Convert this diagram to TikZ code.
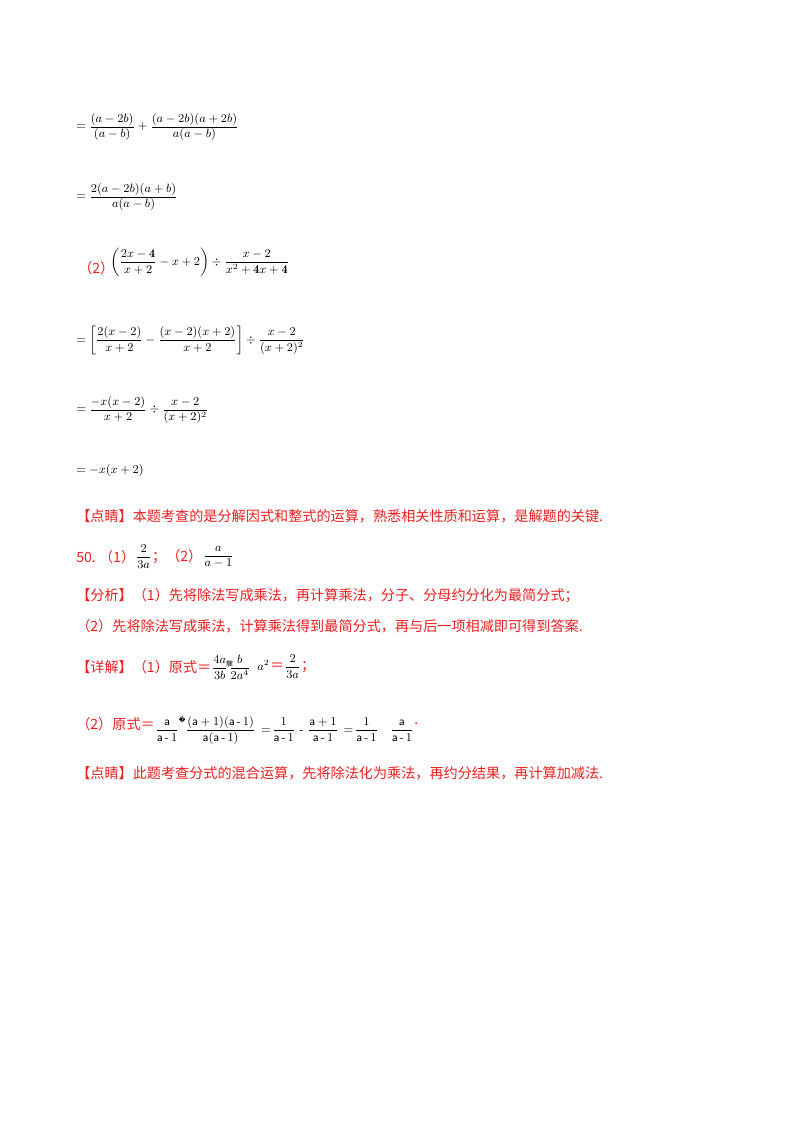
\documentclass[tikz,border=0pt]{standalone}
\usepackage{fontspec}
\usepackage{amsmath}
\newfontfamily\cjk{Noto Sans CJK SC}
\newfontfamily\dvs{DejaVu Sans}
\definecolor{rd}{HTML}{F02020}
\begin{document}
\begin{tikzpicture}[x=0.75pt,y=-0.75pt,
 m/.style={anchor=west,inner sep=0pt,font=\small},
 t/.style={anchor=west,inner sep=0pt,text=rd,font=\cjk\fontsize{10.6}{12}\selectfont}]
\useasboundingbox[fill=white] (0,0) rectangle (800,1132);
\node[m] (l1) at (76,127) {$\displaystyle=\frac{(a-2b)}{(a-b)}+\frac{(a-2b)(a+2b)}{a(a-b)}$};
\node[m] (l2) at (76,197) {$\displaystyle=\frac{2(a-2b)(a+b)}{a(a-b)}$};
\node[t] (p2) at (78,268) {（2）};
\node[m] (l3) at (110,262) {$\displaystyle\left(\frac{2x-\mathbf{4}}{x+2}-x+2\right)\div\frac{x-2}{x^2+\mathbf{4}x+\mathbf{4}}$};
\node[m] (l4) at (76,340) {$\displaystyle=\left[\frac{2(x-2)}{x+2}-\frac{(x-2)(x+2)}{x+2}\right]\div\frac{x-2}{(x+2)^2}$};
\node[m] (l5) at (76,410) {$\displaystyle=\frac{-x(x-2)}{x+2}\div\frac{x-2}{(x+2)^2}$};
\node[m] (l6) at (76,470) {$=-x(x+2)$};
\node[t] (d1) at (76,516) {【点睛】本题考查的是分解因式和整式的运算，熟悉相关性质和运算，是解题的关键.};
\node[t] (n50) at (76,557) {50.\ （1）};
\node[m] (n50a) at (n50.east) {$\displaystyle\frac{2}{3a}$};
\node[t] (n50b) at (n50a.east) {；（2）};
\node[m] (n50c) at (n50b.east) {$\displaystyle\frac{a}{a-1}$};
\node[t] (f1) at (76,596) {【分析】（1）先将除法写成乘法，再计算乘法，分子、分母约分化为最简分式；};
\node[t] (f2) at (76,626) {（2）先将除法写成乘法，计算乘法得到最简分式，再与后一项相减即可得到答案.};
\node[t] (x1) at (76,667) {【详解】（1）原式＝};
\node[m] (x1m) at (x1.east) {$\displaystyle\frac{4a}{3b}$\hspace{-1pt}\raisebox{3pt}{\cjk\tiny 驟}\hspace{-3pt}$\displaystyle\frac{b}{2a^4}\;\; a^2$};
\node[t] (x1e) at (x1m.east) {＝};
\node[m] (x1f) at (x1e.east) {$\displaystyle\frac{2}{3a}$};
\node[t] (x1g) at (x1f.east) {；};
\node[t] (x2) at (76,724) {（2）原式＝};
\node[m,font=\sffamily\small] (x2m) at ([yshift=-5pt]x2.east) {$\displaystyle\frac{\mathsf{a}}{\mathsf{a}\,\text{-}\,1}$\raisebox{8pt}{\dvs\tiny �}$\displaystyle\frac{(\mathsf{a}+1)(\mathsf{a}\,\text{-}\,1)}{\mathsf{a}(\mathsf{a}\,\text{-}\,1)}\,=\!\frac{1}{\mathsf{a}\,\text{-}\,1}\ \text{-}\ \frac{\mathsf{a}+1}{\mathsf{a}\,\text{-}\,1}\,=\!\frac{1}{\mathsf{a}\,\text{-}\,1}\quad\frac{\mathsf{a}}{\mathsf{a}\,\text{-}\,1}$};
\node[t] (x2e) at ([yshift=5pt]x2m.east) {.};
\node[t] (d2) at (76,773) {【点睛】此题考查分式的混合运算，先将除法化为乘法，再约分结果，再计算加减法.};
\end{tikzpicture}
\end{document}
